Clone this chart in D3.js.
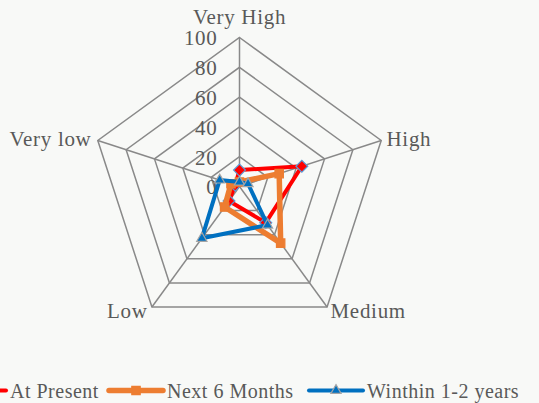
<!DOCTYPE html>
<html>
<head>
<meta charset="utf-8">
<script src="https://cdn.jsdelivr.net/npm/d3@7"></script>
<style>
  html, body { margin: 0; padding: 0; background: #f8f9f7; }
  svg { display: block; }
</style>
</head>
<body>
<svg id="chart" width="539" height="403"></svg>
<script>
const categories = ["Very High", "High", "Medium", "Low", "Very low"];
const tickValues = [0, 20, 40, 60, 80, 100];
const seriesNames = ["At Present", "Next 6 Months", "Winthin 1-2 years"];
const atPresent = [11, 44, 30, 12, 3];
const next6Months = [3, 28, 47, 17, 6];
const within12Years = [3, 6, 32, 43, 14];

const W = 539, H = 403;
const cx = 239.5, cy = 186.5, R = 149;
const font = "'Liberation Serif', 'Times New Roman', serif";
const fs = 21, ls = 0.7;
const textColor = "#595959";
const gridColor = "#898989";

const svg = d3.select("#chart");
svg.append("rect").attr("width", W).attr("height", H).attr("fill", "#f8f9f7");

const r = d3.scaleLinear().domain([0, 100]).range([0, R]);
const angle = d3.scalePoint().domain(categories).range([0, 2 * Math.PI * (categories.length - 1) / categories.length]);

const g = svg.append("g").attr("transform", `translate(${cx},${cy})`);

function pt(cat, v) {
  const a = angle(cat);
  return [r(v) * Math.sin(a), -r(v) * Math.cos(a)];
}

function styleText(sel, size, spacing) {
  return sel.attr("font-family", font).attr("font-size", size || fs)
    .attr("letter-spacing", spacing === undefined ? ls : spacing).attr("fill", textColor);
}

// grid rings
tickValues.filter(v => v > 0).forEach(v => {
  g.append("path")
    .attr("d", d3.line()(categories.map(c => pt(c, v))) + "Z")
    .attr("fill", "none").attr("stroke", gridColor).attr("stroke-width", 1.5);
});
// spokes
categories.forEach(c => {
  const p = pt(c, 100);
  g.append("line").attr("x1", 0).attr("y1", 0).attr("x2", p[0]).attr("y2", p[1])
    .attr("stroke", gridColor).attr("stroke-width", 1.5);
});

// tick labels
tickValues.forEach(v => {
  styleText(g.append("text").attr("x", -22).attr("y", -r(v)).attr("dy", "0.38em")
    .attr("text-anchor", "end")).text(v);
});

// category labels
const labelPos = {
  "Very High": { x: 0, y: -163, anchor: "middle" },
  "High": { x: 147, y: -40.5, anchor: "start" },
  "Medium": { x: 91, y: 131.5, anchor: "start" },
  "Low": { x: -92, y: 131.5, anchor: "end" },
  "Very low": { x: -148, y: -40.5, anchor: "end" }
};
categories.forEach(c => {
  const lp = labelPos[c];
  styleText(g.append("text").attr("x", lp.x).attr("y", lp.y).attr("text-anchor", lp.anchor)).text(c);
});

const seriesData = [atPresent, next6Months, within12Years];
const styles = [
  { color: "#ff0000", width: 4, marker: d3.symbolDiamond2, msize: 90, mstroke: "#5b9bd5" },
  { color: "#ed7d31", width: 5.5, marker: d3.symbolSquare2, msize: 90, mstroke: "#ed7d31" },
  { color: "#0070c0", width: 4, marker: d3.symbolTriangle2, msize: 75, mstroke: "#a5a5a5" }
];

const line = d3.lineRadial()
  .angle(d => angle(d.cat))
  .radius(d => r(d.v))
  .curve(d3.curveLinearClosed);

seriesData.forEach((vals, i) => {
  const s = styles[i];
  const pts = categories.map((c, j) => ({ cat: c, v: vals[j] }));
  g.append("path").attr("d", line(pts)).attr("fill", "none")
    .attr("stroke", s.color).attr("stroke-width", s.width).attr("stroke-linejoin", "round");
  pts.forEach(p => {
    const [x, y] = pt(p.cat, p.v);
    g.append("path").attr("d", d3.symbol(s.marker, s.msize)())
      .attr("transform", `translate(${x},${y})`)
      .attr("fill", s.color).attr("stroke", s.mstroke).attr("stroke-width", 1.2);
  });
});

// legend (text start positions as in the reference layout)
const legend = svg.append("g");
const lineLen = 54, gapText = 4, ly = 390.5;
const legendTextX = [10, 167, 367];
seriesNames.forEach((name, i) => {
  const s = styles[i];
  const tx = legendTextX[i];
  const x0 = tx - gapText - lineLen;
  legend.append("line").attr("x1", x0).attr("x2", x0 + lineLen).attr("y1", ly).attr("y2", ly)
    .attr("stroke", s.color).attr("stroke-width", s.width).attr("stroke-linecap", "round");
  legend.append("path").attr("d", d3.symbol(s.marker, s.msize)())
    .attr("transform", `translate(${x0 + lineLen / 2},${ly})`)
    .attr("fill", s.color).attr("stroke", s.mstroke).attr("stroke-width", 1.2);
  styleText(legend.append("text").attr("x", tx).attr("y", ly + 7), 20, 0.5).text(name);
});
</script>
</body>
</html>
